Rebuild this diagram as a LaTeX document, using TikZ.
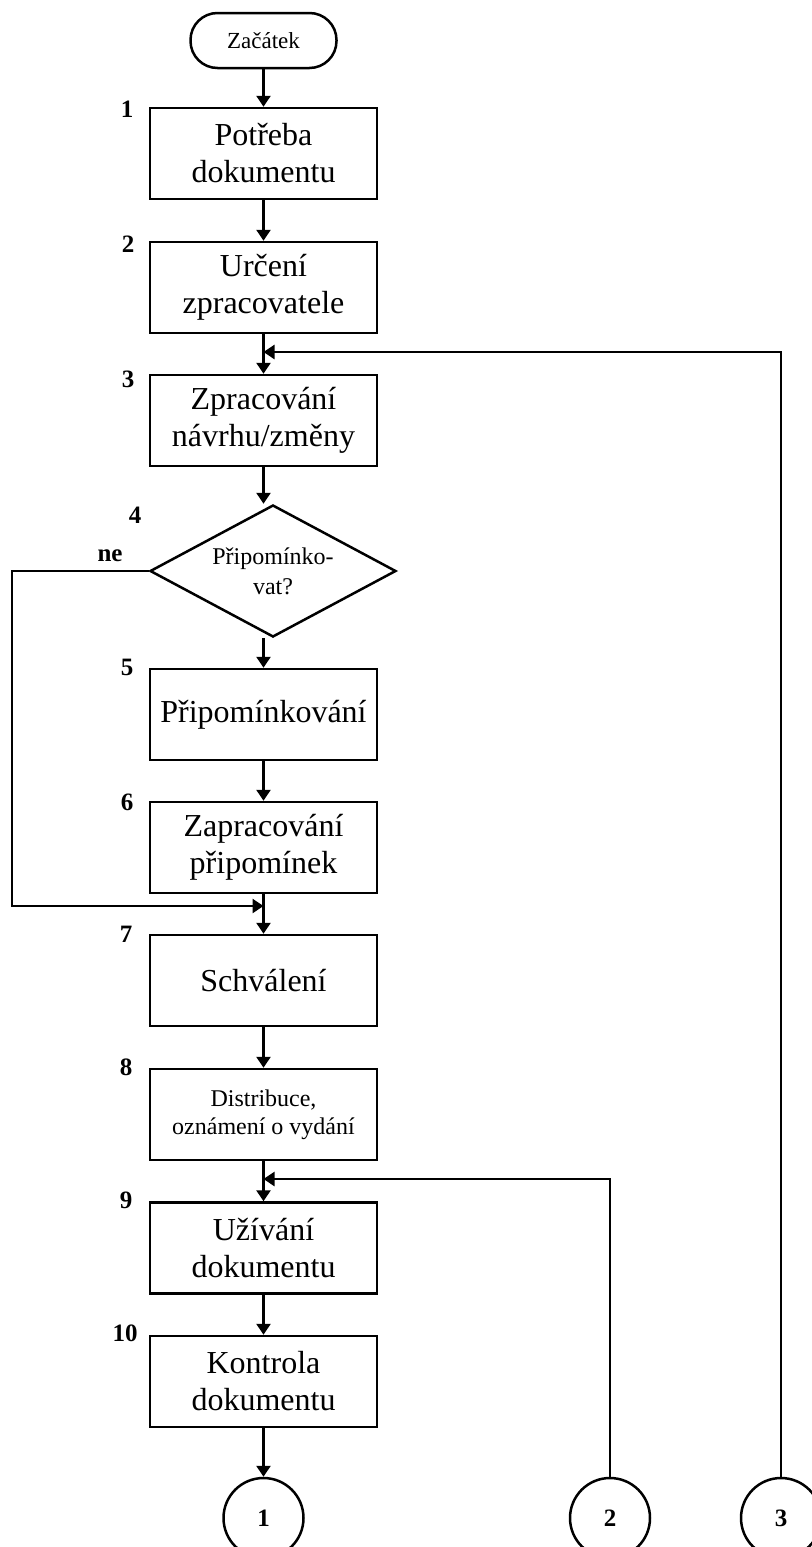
\documentclass[tikz,border=0pt]{standalone}
\usepackage{fontspec}
\setmainfont{Liberation Serif}
\usetikzlibrary{shapes.geometric,arrows.meta,calc}
\begin{document}
\begin{tikzpicture}[x=1pt,y=-1pt,line width=2.5pt,
  box/.style={draw, rectangle, minimum width=227pt, minimum height=91pt, inner sep=0pt, align=center, font=\fontsize{32}{37}\selectfont},
  smallbox/.style={box, font=\fontsize{24}{28}\selectfont},
  term/.style={draw, rectangle, rounded corners=27pt, minimum width=146pt, minimum height=55pt, inner sep=0pt, font=\fontsize{23}{28}\selectfont},
  decision/.style={draw, diamond, aspect=1.86, minimum width=246pt, minimum height=132pt, inner sep=0pt, align=center, font=\fontsize{24}{30}\selectfont},
  conn/.style={draw, circle, minimum size=80pt, inner sep=0pt, font=\bfseries\fontsize{25}{28}\selectfont},
  num/.style={font=\bfseries\fontsize{25}{28}\selectfont, inner sep=0pt},
  arr/.style={-{Triangle[width=14pt,length=11pt]}}]
\useasboundingbox (0,0) rectangle (811,1547);

\node[term] (start) at (263.5,40.5) {Začátek};
\node[box] (b1) at (263.5,153.5) {Potřeba\\dokumentu};
\node[box] (b2) at (263.5,287.5) {Určení\\zpracovatele};
\node[box] (b3) at (263.5,420.5) {Zpracování\\návrhu/změny};
\node[decision] (d) at (273,571) {Připomínko-\\vat?};
\node[box] (b5) at (263.5,714.5) {Připomínkování};
\node[box] (b6) at (263.5,847.5) {Zapracování\\připomínek};
\node[box] (b7) at (263.5,980.5) {Schválení};
\node[smallbox] (b8) at (263.5,1114.5) {Distribuce,\\oznámení o vydání};
\node[box] (b9) at (263.5,1248) {Užívání\\dokumentu};
\node[box] (b10) at (263.5,1381.5) {Kontrola\\dokumentu};
\node[conn] (c1) at (263.5,1518) {1};
\node[conn] (c2) at (610,1518) {2};
\node[conn] (c3) at (781,1518) {3};

\node[num] (n1) at (127,109) {1};
\node[num] (n2) at (128,244) {2};
\node[num] (n3) at (128,379) {3};
\node[num] (n4) at (135,515) {4};
\node[num] (n5) at (127,667) {5};
\node[num] (n6) at (127,802) {6};
\node[num] (n7) at (126,934) {7};
\node[num] (n8) at (126,1067) {8};
\node[num] (n9) at (126,1200) {9};
\node[num] (n10) at (125,1333) {10};
\node[num] (ne) at (110,556) {ne};

\coordinate (neb) at (12,906);
\coordinate (j2) at (263.5,1179);
\coordinate (j3) at (263.5,352);

\draw[arr] (start) -- (b1);
\draw[arr] (b1) -- (b2);
\draw[arr] (b2) -- (b3);
\draw[arr] (b3.south) -- (b3.south |- d.north);
\draw[arr] (d.south -| b5.north) -- (b5.north);
\draw[arr] (b5) -- (b6);
\draw[arr] (b6) -- (b7);
\draw[arr] (b7) -- (b8);
\draw[arr] (b8) -- (b9);
\draw[arr] (b9) -- (b10);
\draw[arr] (b10) -- (c1);
\draw[arr] (d.west) -| (neb) -- (neb -| b7.north);
\draw[arr] (c2.north) |- (j2);
\draw[arr] (c3.north) |- (j3);
\end{tikzpicture}
\end{document}
